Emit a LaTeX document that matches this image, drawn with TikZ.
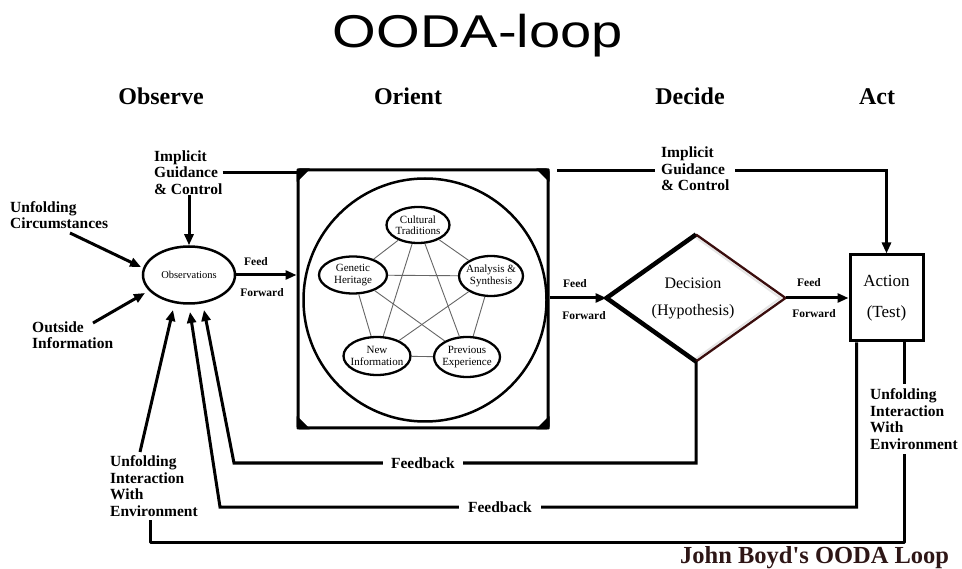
\documentclass[tikz,border=0pt]{standalone}
\usepackage{fontspec}
\setmainfont{Liberation Serif}
\newfontfamily\titlefont{Liberation Sans}
\newfontfamily\boydfont{Liberation Serif}[Ligatures=TeXOff]
\usetikzlibrary{arrows.meta,shapes.geometric}
\definecolor{boyd}{HTML}{2E1616}
\definecolor{decred}{HTML}{3A0D0D}
\begin{document}
\begin{tikzpicture}[x=1pt,y=-1pt,
  conn/.style={line width=3pt},
  arr/.style={line width=3pt,-{Triangle[length=11pt,width=9pt]}},
  lbl/.style={font=\bfseries\fontsize{15.5}{16.5}\selectfont, align=left, inner sep=0pt},
  ff/.style={font=\bfseries\fontsize{11.5}{12}\selectfont, inner sep=0pt},
  head/.style={font=\bfseries\fontsize{24}{26}\selectfont, anchor=base, inner sep=0pt},
  innerell/.style={ellipse, draw, line width=2.3pt, fill=white, inner sep=0pt},
  itxt/.style={font=\fontsize{11}{11.5}\selectfont, align=center, inner sep=0pt},
  web/.style={draw=black!60, line width=0.9pt},
  gap/.style={fill=white, inner xsep=6pt, inner ysep=2pt}
]
\useasboundingbox (0,0) rectangle (962,569);

% title and phase headings
\node[font=\titlefont\fontsize{46}{50}\selectfont, anchor=base, inner sep=0pt] (title) at (478,48) {\scalebox{1.22}[1]{OODA-loop}};
\node[head] (hobs) at (161,105) {Observe};
\node[head] (hori) at (408,105) {Orient};
\node[head] (hdec) at (690,105) {Decide};
\node[head] (hact) at (877,105) {Act};

% Observe
\node[ellipse, draw, line width=2.5pt, minimum width=92pt, minimum height=57pt, inner sep=0pt] (obs) at (189,275) {};
\node[font=\fontsize{10.5}{11}\selectfont, inner sep=0pt] (obs-t) at (obs.center) {Observations};

\node[lbl, anchor=west] (ig1) at (154,172.5) {Implicit\\Guidance\\\& Control};
\node[lbl, anchor=west] (uc) at (10,215) {Unfolding\\Circumstances};
\node[lbl, anchor=west] (oi) at (32,335) {Outside\\Information};
\node[lbl, anchor=west] (uie1) at (110,486) {Unfolding\\Interaction\\With\\Environment};

\coordinate (ucs) at (70,233);
\coordinate (uce) at (141,267);
\coordinate (ois) at (93,323);
\coordinate (oie) at (145,293);
\coordinate (t1) at (173,310);
\coordinate (t2) at (190,312);
\coordinate (t3) at (204,310);
\coordinate (u1) at (140,452);

\draw[arr] (ig1.south -| obs.north) -- (obs.north);
\draw[arr] (ucs) -- (uce);
\draw[arr] (ois) -- (oie);
\draw[arr] (u1) -- (t1);

% Orient frame
\node[draw, line width=3pt, rounded corners=2pt, minimum width=250pt, minimum height=258pt, inner sep=0pt] (ori) at (423,299) {};
\fill[rounded corners=1pt] (ori.north west) -- ++(14,0) -- ++(-14,14) -- cycle;
\fill[rounded corners=1pt] (ori.north east) -- ++(-14,0) -- ++(14,14) -- cycle;
\fill[rounded corners=1pt] (ori.south west) -- ++(14,0) -- ++(-14,-14) -- cycle;
\fill[rounded corners=1pt] (ori.south east) -- ++(-14,0) -- ++(14,-14) -- cycle;
\node[circle, draw, line width=2.5pt, fill=white, minimum size=243pt, inner sep=0pt] (orc) at (425,300) {};

\node[innerell, minimum width=63pt, minimum height=36pt] (ct) at (418,225) {};
\node[innerell, minimum width=68pt, minimum height=37pt] (gh) at (353,275) {};
\node[innerell, minimum width=64pt, minimum height=40pt] (as) at (491,276) {};
\node[innerell, minimum width=67pt, minimum height=38pt] (ni) at (377,356) {};
\node[innerell, minimum width=66pt, minimum height=40pt] (pe) at (467,357) {};
\node[itxt] (ct-t) at (ct.center) {Cultural\\Traditions};
\node[itxt] (gh-t) at (gh.center) {Genetic\\Heritage};
\node[itxt] (as-t) at (as.center) {Analysis \&\\Synthesis};
\node[itxt] (ni-t) at (ni.center) {New\\Information};
\node[itxt] (pe-t) at (pe.center) {Previous\\Experience};

\draw[web] (ct) -- (gh);
\draw[web] (ct) -- (as);
\draw[web] (ct) -- (ni);
\draw[web] (ct) -- (pe);
\draw[web] (gh) -- (as);
\draw[web] (gh) -- (ni);
\draw[web] (gh) -- (pe);
\draw[web] (as) -- (ni);
\draw[web] (as) -- (pe);
\draw[web] (ni) -- (pe);

% Decide
\node[diamond, aspect=1.41, minimum width=179pt, minimum height=127pt, inner sep=0pt, outer sep=0pt] (dec) at (696,298) {};
\draw[black!10, line width=2pt] ([xshift=-4pt]dec.north) -- ([xshift=-5pt]dec.east) -- ([xshift=-4pt]dec.south);
\draw[line width=4.5pt] (dec.south) -- (dec.west) -- (dec.north);
\draw[line width=2.3pt, draw=decred] (dec.north) -- (dec.east) -- (dec.south);
\node[font=\fontsize{16}{27}\selectfont, align=center, inner sep=0pt] (dec-t) at (693,298) {Decision\\(Hypothesis)};

% Act
\node[draw, line width=3pt, minimum width=73pt, minimum height=86pt, inner sep=0pt,
      font=\fontsize{17}{31}\selectfont, align=center] (act) at (886.5,298) {Action\\(Test)};

% feed forward
\draw[arr] (obs.east) -- (obs.east -| ori.west);
\draw[arr] (ori.east |- dec.west) -- (dec.west);
\draw[arr] (dec.east) -- (act.west);
\node[ff] (f1a) at (256,262) {Feed};
\node[ff] (f1b) at (262,293) {Forward};
\node[ff] (f2a) at (575,284) {Feed};
\node[ff] (f2b) at (584,316) {Forward};
\node[ff] (f3a) at (809,283) {Feed};
\node[ff] (f3b) at (814,314) {Forward};

% implicit guidance & control
\coordinate (tr0) at (557,171);
\draw[conn] (ig1.east) -- (ig1.east -| ori.west);
\draw[arr] (tr0) -- (act.north |- tr0) -- (act.north);
\node[lbl, gap, anchor=west] (ig2) at (655,169) {Implicit\\Guidance\\\& Control};

% feedback loops
\coordinate (fb1c) at (234,463);
\coordinate (fb2c) at (220,507);
\coordinate (env1) at (150,542);
\coordinate (env2) at (150,520);
\draw[arr] (dec.south) |- (fb1c) -- (t3);
\draw[arr] ([xshift=8pt]act.south west) |- (fb2c) -- (t2);
\draw[conn, line join=round] ([xshift=-20pt]act.south east) |- (env1) -- (env2);
\node[lbl, gap, inner xsep=8pt] (fb1) at (423,463) {Feedback};
\node[lbl, gap, inner xsep=9pt] (fb2) at (500,507) {Feedback};
\node[lbl, fill=white, inner xsep=2pt, inner ysep=5pt, anchor=west] (uie2) at (868,419) {Unfolding\\Interaction\\With\\Environment};

\node[font=\boydfont\bfseries\fontsize{24.5}{26}\selectfont, text=boyd, anchor=base west, inner sep=0pt] (boydt) at (680,563) {John Boyd's OODA Loop};
\end{tikzpicture}
\end{document}
